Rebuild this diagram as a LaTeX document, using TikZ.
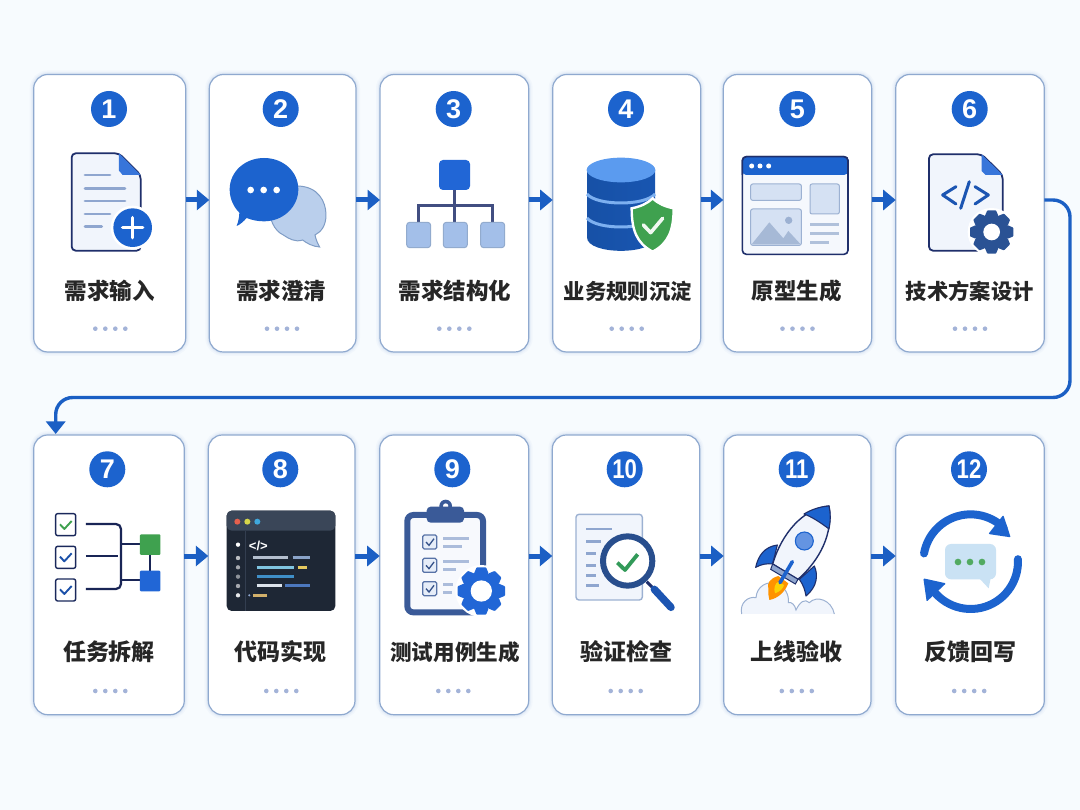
\documentclass[tikz,border=0pt]{standalone}
\usepackage{fontspec}
\setmainfont{Liberation Sans}
\newfontfamily\cjk{Noto Sans CJK SC}
\usetikzlibrary{arrows.meta,calc}
\definecolor{bgc}{HTML}{F7FBFE}
\definecolor{cardline}{HTML}{8FA9CF}
\definecolor{glow}{HTML}{C9DAEF}
\definecolor{mainblue}{HTML}{1C63CE}
\definecolor{flowblue}{HTML}{1B5FC4}
\definecolor{navy}{HTML}{1F2F6B}
\definecolor{dotc}{HTML}{A3B3D8}
\definecolor{paper}{HTML}{F1F5FC}
\definecolor{barc}{HTML}{8FA6CF}
\definecolor{paleb}{HTML}{BACFEC}
\definecolor{palel}{HTML}{7F9CC5}
\definecolor{gearn}{HTML}{2A5294}
\definecolor{okgreen}{HTML}{3FA14F}
\definecolor{brightb}{HTML}{2166D6}
\definecolor{panel}{HTML}{D5E1F3}
\definecolor{panell}{HTML}{9CB1D2}
\definecolor{clipc}{HTML}{3A5A98}
\definecolor{dbtop}{HTML}{5B9BEF}
\definecolor{dbband}{HTML}{7DB0F0}
\definecolor{termbody}{HTML}{1E2735}
\definecolor{termbar}{HTML}{3A4658}
\definecolor{termline}{HTML}{333E50}
\definecolor{dotred}{HTML}{E5604D}
\definecolor{dotyel}{HTML}{D6D64A}
\definecolor{dotblu}{HTML}{3FA8DD}
\tikzset{
  cardbox/.style={rectangle,rounded corners=14pt,inner sep=0pt,outer sep=0pt,fill=white,draw=cardline,line width=1.2pt,
    preaction={draw=glow,line width=8pt,draw opacity=.12},
    preaction={draw=glow,line width=5pt,draw opacity=.2},
    preaction={draw=glow,line width=3pt,draw opacity=.3}},
  numdisc/.style={circle,fill=mainblue,inner sep=0pt,outer sep=0pt,minimum size=36pt},
  numtext/.style={text=white,font=\bfseries\fontsize{27}{27}\selectfont,inner sep=0pt},
  steplabel/.style={inner sep=0pt,text=black!85,font=\cjk\bfseries},
  flow/.style={draw=flowblue,line width=5pt,-{Triangle[length=12.5pt,width=20pt]}},
  loopline/.style={draw=flowblue,line width=3.4pt,rounded corners=17pt,-{Triangle[length=12.5pt,width=19pt]}},
  bar/.style={line width=2.8pt,line cap=round,draw=barc},
  zoomA/.style={shift={(20,60)},x=.33333pt,y=-.33333pt},
  zoomB/.style={shift={(370,60)},x=.33333pt,y=-.33333pt},
  zoomC/.style={shift={(720,60)},x=.33333pt,y=-.33333pt},
  zoomD/.style={shift={(20,420)},x=.33333pt,y=-.33333pt},
  zoomE/.style={shift={(370,420)},x=.33333pt,y=-.33333pt},
  zoomF/.style={shift={(720,420)},x=.33333pt,y=-.33333pt},
}
% id, cardx, cardy, w, h, discx, discy, labelx, labely
\newcommand{\mkcard}[1]{\mkcardA#1\relax}
\def\mkcardA#1,#2,#3,#4,#5,#6,#7,#8,#9\relax{%
  \node[cardbox,minimum width=#4pt,minimum height=#5pt] (c#1) at (#2,#3) {};
  \node[numdisc] (n#1) at (#6,#7) {};
  \node[steplabel] (t#1) at (#8,#9+0) {\fontsize{\lblsize}{\lblsize}\selectfont\lbltext};
}
\newcommand{\geargly}[6]{% cx cy R rb hole colour
  \begin{scope}[shift={(#1,#2)}]
    \fill[#6] (0,0) circle[radius=#4];
    \foreach \a in {0,45,...,315}
      \fill[#6,rotate=\a] ({-.30*#3},{-#4+8}) -- ({-.30*#3},{-#4}) [rounded corners=.7pt] -- ({-.20*#3},{-#3}) -- ({.20*#3},{-#3}) [sharp corners] -- ({.30*#3},{-#4}) -- ({.30*#3},{-#4+8}) -- cycle;
    \fill[white] (0,0) circle[radius=#5];
  \end{scope}}
\begin{document}
\begin{tikzpicture}[x=1pt,y=-1pt]
\useasboundingbox (0,0) rectangle (1080,810);
\fill[bgc] (0,0) rectangle (1080,810);
% cards
\def\lblsize{22.5}
\def\lbltext{需求输入}\mkcard{1,109.7,213.25,152,277.5,109,109,109.7,291}
\def\lbltext{需求澄清}\mkcard{2,282.65,213.25,146.7,277.5,280.7,109,281.3,291}
\def\lbltext{需求结构化}\mkcard{3,454.35,213.25,148.7,277.5,453.7,109,455,291}
\def\lblsize{21.3}
\def\lbltext{业务规则沉淀}\mkcard{4,626.7,213.25,148,277.5,626,109,627.8,291}
\def\lblsize{22.5}
\def\lbltext{原型生成}\mkcard{5,797.5,213.25,148.4,277.5,797.3,109,796.5,291}
\def\lblsize{21.3}
\def\lbltext{技术方案设计}\mkcard{6,970,213.25,148.6,277.5,969.7,109,969.7,291}
\def\lblsize{23}
\def\lbltext{任务拆解}\mkcard{7,109,574.85,150.6,279.7,107.3,469.3,109,652}
\def\lbltext{代码实现}\mkcard{8,281.65,574.85,146.7,279.7,280.3,469.3,280,652}
\def\lblsize{21.6}
\def\lbltext{测试用例生成}\mkcard{9,454.2,574.85,149,279.7,452.3,469.3,455,652}
\def\lblsize{23}
\def\lbltext{验证检查}\mkcard{10,626,574.85,147.4,279.7,624.7,469.3,626,652}
\def\lbltext{上线验收}\mkcard{11,797.35,574.85,147.3,279.7,796.7,469.3,796,652}
\def\lbltext{反馈回写}\mkcard{12,970,574.85,148.6,279.7,969,469.3,970,652}
% numbers
\foreach \i in {1,...,9} \node[numtext] at (n\i) {\i};
\foreach \i in {10,11,12} \node[numtext,xscale=.82] at (n\i) {\i};
% progress dots
\foreach \x/\y in {110.3/328.7,282/328.7,454.3/328.7,626.7/328.7,797.5/328.7,970/328.7,110.3/691,281.3/691,453.3/691,625.7/691,796.8/691,969.2/691}
  \foreach \k in {-15,-5,5,15} \fill[dotc] ({\x+\k},\y) circle[radius=2.3];
% connectors
\foreach \a/\b in {1/2,2/3,3/4,4/5,5/6}
  \draw[flow] ([yshift=13.25pt]c\a.east) -- ([yshift=13.25pt]c\b.west);
\foreach \a/\b in {7/8,8/9,9/10,10/11,11/12}
  \draw[flow] ([yshift=18.85pt]c\a.east) -- ([yshift=18.85pt]c\b.west);
\coordinate (turnA) at (1070,397.5);
\coordinate (turnB) at (55.7,397.5);
\draw[loopline] ([yshift=13.25pt]c6.east) -| (turnA) -- (turnB) -- ([xshift=-53.3pt,yshift=1pt]c7.north);

% ---- icon 1: document with plus
\begin{scope}[zoomA]
\draw[fill=paper,draw=navy,line width=1.8pt,rounded corners=4pt] (297,280) -- (155,280) -- (155,572) -- (362,572) -- (362,345) -- cycle;
\fill[brightb!90!white] (297,280) -- (362,345) -- (308,345) -- (297,332) -- cycle;
\foreach \yy/\xx in {345/270,385/315,423/315,462/270,500/245} \draw[bar] (195,\yy) -- (\xx,\yy);
\fill[white] (338,503) circle[radius=66];
\fill[mainblue] (338,503) circle[radius=58];
\draw[white,line width=3.6pt,line cap=round] (308,503) -- (368,503) (338,473) -- (338,533);
% icon 2: chat
\draw[fill=paleb,draw=palel,line width=1pt] (790,525) .. controls (735,500) and (725,378) .. (830,378) .. controls (895,378) and (918,425) .. (918,465) .. controls (918,495) and (905,515) .. (885,525) .. controls (888,540) and (893,550) .. (899,561) .. controls (880,560) and (860,550) .. (848,540) .. controls (825,548) and (805,535) .. (790,525) -- cycle;
\fill[mainblue] (732,294) .. controls (790,294) and (835,335) .. (835,388) .. controls (835,440) and (790,484) .. (732,484) .. controls (712,484) and (695,480) .. (680,474) .. controls (670,485) and (660,494) .. (650,498) .. controls (655,485) and (658,470) .. (658,458) .. controls (640,440) and (629,415) .. (629,388) .. controls (629,335) and (675,294) .. (732,294) -- cycle;
\foreach \xx in {692,731,770} \fill[white] (\xx,390) circle[radius=10];
\end{scope}

% ---- icons 3,4
\begin{scope}[zoomB]
\draw[line width=2.4pt,draw=navy!85!white] (254,390) -- (254,487) (145,487) -- (145,437) -- (367,437) -- (367,487);
\fill[brightb,rounded corners=4pt] (207,300) rectangle (300,390);
\foreach \xx in {110,220,332}
  \draw[fill=paleb!85!brightb,draw=palel!85!white,line width=1pt,rounded corners=3pt] (\xx,487) rectangle ({\xx+72},563);
% database
\shade[left color=flowblue!85!black,middle color=brightb!90!white,right color=flowblue!90!black] (651,330) -- (651,532) .. controls (651,586) and (855,586) .. (855,532) -- (855,330) -- cycle;
\fill[dbtop] (753,330) ellipse[x radius=103,y radius=37];
\draw[draw=dbband,line width=3pt] (651,402) .. controls (680,438) and (826,438) .. (855,402);
\draw[draw=dbband,line width=3pt] (651,474) .. controls (680,510) and (826,510) .. (855,474);
\draw[fill=okgreen,draw=white,line width=2.4pt] (848,415) .. controls (830,432) and (810,440) .. (785,445) .. controls (785,510) and (800,550) .. (848,575) .. controls (896,550) and (911,510) .. (911,445) .. controls (886,440) and (866,432) .. (848,415) -- cycle;
\draw[white!92!okgreen,line width=3.6pt,line cap=round,line join=round] (820,495) -- (842,518) -- (878,475);
\end{scope}

% ---- icons 5,6
\begin{scope}[zoomC]
\draw[fill=paper!70!white,draw=navy,line width=1.6pt,rounded corners=4pt] (67,290) rectangle (384,583);
\fill[mainblue,rounded corners=4pt] (67,290) -- (384,290) -- (384,345) -- (67,345) -- cycle;
\draw[draw=navy,line width=1.6pt,rounded corners=4pt] (67,345) -- (67,290) -- (384,290) -- (384,345);
\foreach \xx in {95,120,146} \fill[white] (\xx,318) circle[radius=7.5];
\draw[fill=panel,draw=panell,line width=1pt,rounded corners=2pt] (92,372) rectangle (244,421);
\draw[fill=panel,draw=panell,line width=1pt,rounded corners=2pt] (270,372) rectangle (358,462);
\draw[fill=panel,draw=panell,line width=1pt,rounded corners=2pt] (92,447) rectangle (244,556);
\fill[panell!90!white] (95,553) -- (148,487) -- (190,535) -- (205,513) -- (242,553) -- cycle;
\fill[panell] (206,481) circle[radius=11];
\foreach \yy/\xx in {493/358,520/358,547/328} \draw[line width=2.8pt,draw=panell!80!white] (270,\yy) -- (\xx,\yy);
% icon 6
\draw[fill=paper,draw=navy,line width=1.8pt,rounded corners=4pt] (785,283) -- (627,283) -- (627,572) -- (848,572) -- (848,345) -- cycle;
\fill[brightb!90!white] (785,283) -- (848,345) -- (797,345) -- (785,333) -- cycle;
\draw[flowblue!80!navy,line width=3pt,line cap=round,line join=round] (708,380) -- (668,405) -- (708,432) (765,380) -- (805,405) -- (765,432) (748,365) -- (722,445);
\fill[white] (815,516) circle[radius=72];
\geargly{815}{516}{65}{50}{25}{gearn}
\end{scope}

% ---- icons 7,8
\begin{scope}[zoomD]
\foreach \yy in {281,379,477}
  \draw[fill=white,draw=navy!85!black,line width=1.4pt,rounded corners=2pt] (107,\yy) rectangle (167,{\yy+66});
\draw[okgreen,line width=1.9pt,line join=round] (120,313) -- (133,327) -- (155,303);
\draw[flowblue!70!navy,line width=1.9pt,line join=round] (120,410) -- (133,424) -- (155,400);
\draw[flowblue!70!navy,line width=1.9pt,line join=round] (120,508) -- (133,522) -- (155,498);
\draw[navy!80!black,line width=2.2pt,rounded corners=5pt] (198,312) -- (303,312) -- (303,507) -- (198,507);
\draw[navy!80!black,line width=2.2pt] (198,408) -- (295,408) (303,373) -- (360,373) (303,481) -- (360,481) (390,405) -- (390,452);
\fill[okgreen,rounded corners=1pt] (360,343) rectangle (421,405);
\fill[brightb,rounded corners=1pt] (360,452) rectangle (421,514);
% icon 8: terminal
\fill[termbody,rounded corners=5pt] (620,272) rectangle (946,573);
\fill[termbar,rounded corners=5pt] (620,332) -- (620,272) -- (946,272) -- (946,332) -- cycle;
\draw[termline,line width=.8pt] (676,332) -- (676,573);
\fill[dotred] (652,305) circle[radius=9];
\fill[dotyel] (682,305) circle[radius=9];
\fill[dotblu] (712,305) circle[radius=9];
\foreach \yy/\op in {374/1,414/.7,442/.6,470/.5,498/.6,526/.9} \fill[white,opacity=\op] (654,\yy) circle[radius=6.5];
\node[text=white,font=\bfseries\fontsize{13}{13}\selectfont,inner sep=0pt] (codeTag) at (715,378) {</>};
\foreach \xa/\xb/\yy/\cc in {700/805/414/B4BFCE,818/870/414/8AA3C8,710/822/442/7FC4E0,833/862/442/E5C95F,710/822/470/3F8FC8,710/785/498/DCE3EC,796/870/498/4C78BE,700/740/526/D2B06B}{
  \definecolor{tmpc}{HTML}{\cc}\draw[tmpc,line width=3pt] (\xa,\yy) -- (\xb,\yy);}
\fill[barc] (688,526) circle[radius=3.5];
\end{scope}

% ---- icons 9,10
\begin{scope}[zoomE]
\draw[fill=paper!60!white,draw=clipc,line width=6pt,rounded corners=6pt] (112,285) rectangle (339,577);
\fill[clipc] (227,258) circle[radius=19];
\fill[white] (227,258) circle[radius=8];
\fill[clipc,rounded corners=4pt] (170,260) rectangle (282,308);
\foreach \yy in {345,415,485}{
  \draw[fill=panel!60!white,draw=clipc!85!white,line width=1.2pt,rounded corners=1.5pt] (158,\yy) rectangle (200,{\yy+42});
  \draw[clipc!90!black,line width=1.3pt] (168,{\yy+21}) -- (177,{\yy+31}) -- (192,{\yy+11});}
\foreach \xa/\yy in {297/355,275/379,297/424,258/448,250/494,245/518} \draw[line width=2.6pt,draw=barc!75!white] (220,\yy) -- (\xa,\yy);
\fill[white] (334,513) circle[radius=78];
\geargly{334}{513}{71}{54}{32}{brightb}
% icon 10
\draw[fill=paper,draw=panell,line width=1.4pt,rounded corners=3pt] (618,283) rectangle (817,540);
\foreach \xx/\yy in {725/327,693/364,678/400,678/436,678/466,688/497} \draw[line width=2.8pt,draw=barc] (648,\yy) -- (\xx,\yy);
\draw[navy,line width=3pt] (830,485) -- (850,505);
\draw[flowblue!80!navy,line width=7.5pt,line cap=round] (853,508) -- (903,562);
\draw[fill=white,draw=gearn!95!black,line width=6pt] (773,423) circle[radius=74];
\draw[okgreen!80!teal,line width=3.8pt,line join=round] (742,428) -- (765,450) -- (803,403);
\end{scope}

% ---- icons 11,12
\begin{scope}[zoomF]
% cloud
\fill[paper] (65,582) .. controls (58,548) and (85,528) .. (108,533) .. controls (110,500) and (140,482) .. (170,490) .. controls (195,500) and (208,525) .. (205,548) .. controls (215,545) and (225,555) .. (228,570) .. controls (240,545) and (255,535) .. (268,548) .. controls (290,525) and (335,540) .. (343,582) -- cycle;
\draw[panell,line width=1pt] (65,582) .. controls (58,548) and (85,528) .. (108,533) .. controls (110,500) and (140,482) .. (170,490) .. controls (195,500) and (208,525) .. (205,548) .. controls (215,545) and (225,555) .. (228,570) .. controls (240,545) and (255,535) .. (268,548) .. controls (290,525) and (335,540) .. (343,582);
% flame
\fill[orange!85!yellow] (175,468) .. controls (150,475) and (140,490) .. (145,505) .. controls (145,520) and (145,530) .. (148,540) .. controls (175,535) and (195,515) .. (205,490) -- cycle;
\fill[yellow!70!orange] (175,485) .. controls (165,490) and (160,505) .. (165,520) .. controls (180,515) and (190,505) .. (192,495) -- cycle;
% fins
\draw[fill=mainblue,draw=navy,line width=1.1pt,line join=round] (172,375) .. controls (135,380) and (115,405) .. (107,442) .. controls (125,432) and (142,430) .. (158,432) -- cycle;
\draw[fill=mainblue,draw=navy,line width=1.1pt,line join=round] (283,438) .. controls (295,465) and (292,500) .. (258,528) .. controls (255,510) and (250,495) .. (238,478) -- cycle;
% body
\draw[fill=paper,draw=navy,line width=1.4pt,line join=round] (327,258) .. controls (250,265) and (185,340) .. (158,432) -- (234,478) .. controls (300,420) and (340,340) .. (327,258) -- cycle;
\draw[fill=mainblue,draw=navy,line width=1.1pt,line join=round] (327,258) .. controls (300,260) and (275,268) .. (252,282) .. controls (275,290) and (305,310) .. (327,327) .. controls (332,300) and (332,280) .. (327,258) -- cycle;
\draw[fill=brightb!70!white,draw=mainblue,line width=1.1pt] (253,363) circle[radius=27];
\draw[fill=barc,draw=navy,line width=1pt] (158,432) -- (234,478) -- (226,492) -- (152,448) -- cycle;
\draw[mainblue,line width=3.6pt,line cap=round] (217,425) -- (180,488);
% loop arrows
\draw[mainblue,line width=8pt,line cap=round] plot[domain=170:46,samples=30] ({752+142*cos(\x)},{425-142*sin(\x)});
\fill[mainblue,rounded corners=1pt] (850,285) -- (872,352) -- (805,342) -- cycle;
\draw[mainblue,line width=8pt,line cap=round] plot[domain=3:-142,samples=30] ({752+142*cos(\x)},{425-142*sin(\x)});
\fill[mainblue,rounded corners=1pt] (610,475) -- (678,490) -- (620,545) -- cycle;
% bubble
\fill[panel!95!cyan,rounded corners=6pt] (675,372) rectangle (828,478);
\fill[panel!95!cyan] (778,475) -- (812,475) -- (806,505) -- cycle;
\foreach \xx in {714,750,786} \fill[okgreen!90!white] (\xx,426) circle[radius=10];
\end{scope}
\end{tikzpicture}
\end{document}
